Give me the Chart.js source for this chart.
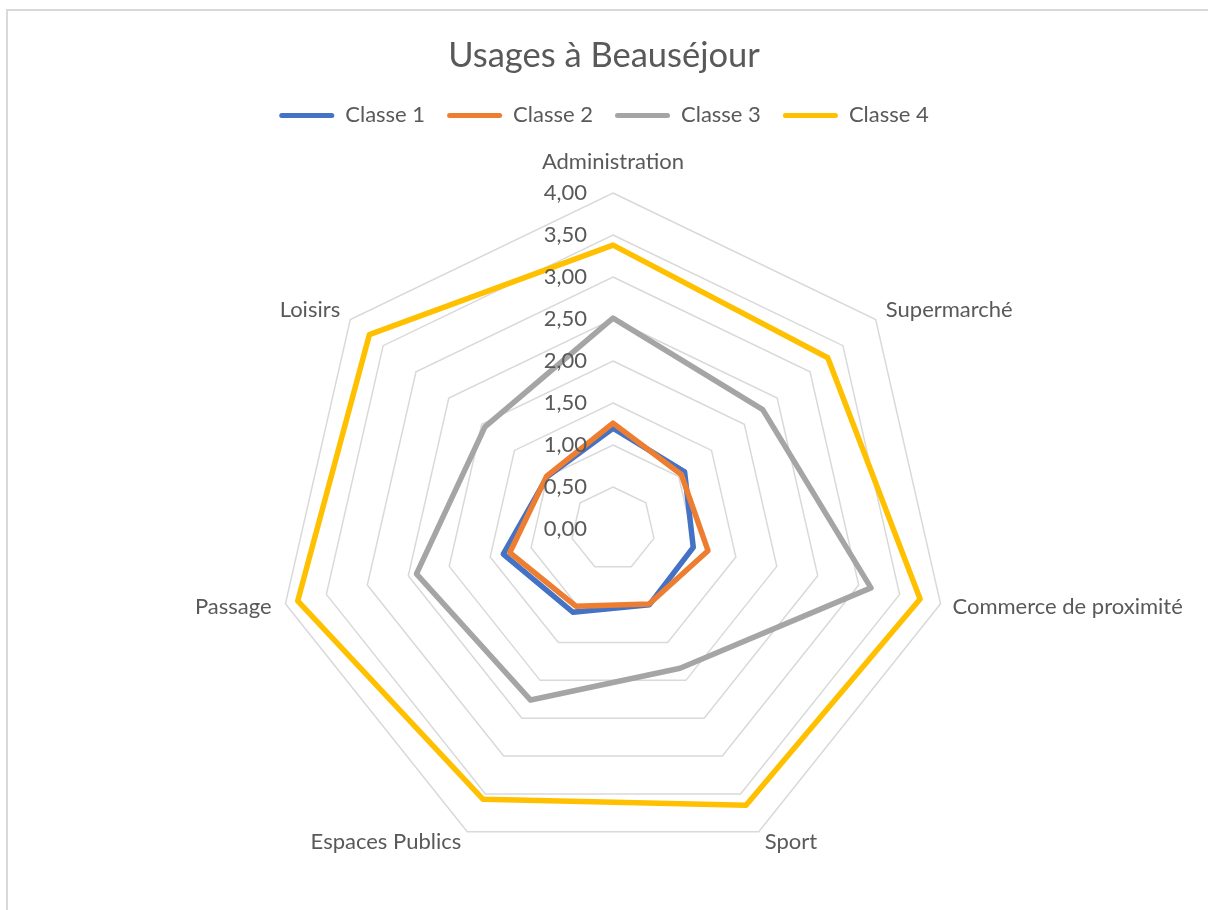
<!DOCTYPE html>
<html>
<head>
<meta charset="utf-8">
<script src="https://cdn.jsdelivr.net/npm/chart.js@4.4.0/dist/chart.umd.min.js"></script>
<style>
  html, body { margin: 0; padding: 0; background: #ffffff; overflow: hidden; }
  #frame { position: absolute; left: 6px; top: 9px; width: 1300px; height: 1000px;
           border-left: 2px solid #D9D9D9; border-top: 2px solid #D9D9D9; }
  #c { position: absolute; left: 0; top: 0; }
</style>
</head>
<body>
<div id="frame"></div>
<canvas id="c" width="1208" height="910"></canvas>
<script>
// ---- Data ----
const categories = ['Administration', 'Supermarché', 'Commerce de proximité', 'Sport', 'Espaces Publics', 'Passage', 'Loisirs'];
const seriesNames = ['Classe 1', 'Classe 2', 'Classe 3', 'Classe 4'];
const classe1 = [1.20, 1.09, 0.98, 1.00, 1.10, 1.34, 1.00];
const classe2 = [1.26, 1.04, 1.16, 0.99, 1.02, 1.26, 1.01];
const classe3 = [2.51, 2.28, 3.15, 1.84, 2.26, 2.40, 1.95];
const classe4 = [3.38, 3.27, 3.75, 3.65, 3.57, 3.85, 3.71];
const tickLabels = ['0,00', '0,50', '1,00', '1,50', '2,00', '2,50', '3,00', '3,50', '4,00'];

// ---- Styles ----
const seriesColors = ['#4472C4', '#ED7D31', '#A5A5A5', '#FFC000'];
const textColor = '#595959';
const FONT = 'Lato';
const LABEL_SIZE = 22;
const labelPad = [18, 4, 6, 0, 0, 6, 4];
const labelShift = [[0, 0], [7, 6], [6, -11], [6, -3], [-6, -3], [-8, -11], [-7, 6]];
const CX = 613, CY = 529, R = 336;

const allSeries = [classe1, classe2, classe3, classe4];

function fixGeometry(scale) {
  scale.xCenter = CX;
  scale.yCenter = CY;
  scale.drawingArea = R;
  scale.setCenterPoint = function () {};
  scale.fit();
  delete scale.setCenterPoint;
  (scale._pointLabelItems || []).forEach((it, i) => {
    const [dx, dy] = labelShift[i];
    it.x += dx; it.left += dx; it.right += dx;
    it.y += dy; it.top += dy; it.bottom += dy;
  });
}

const tickLabelPlugin = {
  id: 'tickLabelPlugin',
  afterDatasetsDraw(chart) {
    const s = chart.scales.r;
    const c = chart.ctx;
    c.save();
    c.font = LABEL_SIZE + 'px ' + FONT;
    c.fillStyle = textColor;
    c.textAlign = 'right';
    c.textBaseline = 'middle';
    s.ticks.forEach((t, i) => {
      const p = s.getPointPositionForValue(0, t.value);
      c.fillText(tickLabels[i], p.x - 26, p.y);
    });
    c.restore();
  }
};

new Chart(document.getElementById('c'), {
  type: 'radar',
  data: {
    labels: categories,
    datasets: allSeries.map((vals, i) => ({
      label: seriesNames[i],
      data: vals,
      borderColor: seriesColors[i],
      backgroundColor: seriesColors[i],
      borderWidth: 5.5,
      borderJoinStyle: 'round',
      fill: false,
      pointRadius: 0,
      pointHoverRadius: 0,
      order: allSeries.length - i
    }))
  },
  options: {
    responsive: false,
    animation: false,
    events: [],
    layout: { padding: 0 },
    plugins: {
      title: {
        display: true,
        text: 'Usages à Beauséjour',
        color: textColor,
        font: { family: FONT, size: 34.5, weight: 'normal' },
        padding: { top: 35, bottom: 6 }
      },
      legend: {
        display: true,
        position: 'top',
        labels: {
          color: textColor,
          font: { family: FONT, size: LABEL_SIZE },
          boxWidth: 55,
          boxHeight: 5,
          padding: 22,
          generateLabels(chart) {
            const items = Chart.defaults.plugins.legend.labels.generateLabels(chart);
            items.forEach(it => {
              it.fillStyle = seriesColors[it.datasetIndex];
              it.strokeStyle = seriesColors[it.datasetIndex];
              it.lineWidth = 0;
              it.borderRadius = 2.5;
            });
            return items.sort((a, b) => a.datasetIndex - b.datasetIndex);
          }
        }
      },
      tooltip: { enabled: false }
    },
    scales: {
      r: {
        min: 0,
        max: 4,
        beginAtZero: true,
        ticks: {
          display: false,
          stepSize: 0.5,
          callback: (v, i) => tickLabels[i]
        },
        grid: { color: '#D9D9D9', lineWidth: 1.5 },
        angleLines: { display: false },
        pointLabels: {
          color: textColor,
          font: { family: FONT, size: LABEL_SIZE },
          padding: ctx => labelPad[ctx.index]
        },
        afterFit: fixGeometry
      }
    }
  },
  plugins: [tickLabelPlugin]
});
</script>
</body>
</html>
